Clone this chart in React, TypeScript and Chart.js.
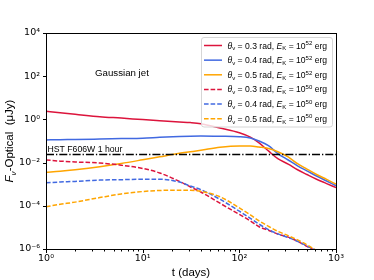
import React, { useEffect, useRef } from "react";
import { Chart, registerables } from "chart.js";
Chart.register(...registerables);

// time since burst (days)
const days = [1, 1.4, 2, 3.6, 6, 10, 15, 24, 31, 40, 63, 100, 130, 160, 200, 250, 320, 400, 500, 630, 800, 1000];

// optical flux density (μJy)
const red52 = [2.37, 2.04, 1.74, 1.33, 1.15, 0.98, 0.87, 0.76, 0.71, 0.63, 0.398, 0.240, 0.150, 0.0813, 0.0347, 0.0151, 0.00851, 0.00468, 0.00282, 0.00170, 0.00107, 0.000692];
const blue52 = [0.112, 0.115, 0.117, 0.123, 0.129, 0.135, 0.148, 0.162, 0.168, 0.170, 0.166, 0.158, 0.138, 0.100, 0.0603, 0.0263, 0.0132, 0.00708, 0.00417, 0.00240, 0.00141, 0.000851];
const orange52 = [0.00355, 0.00398, 0.00468, 0.00646, 0.00912, 0.0135, 0.0186, 0.0269, 0.0316, 0.0372, 0.0513, 0.0589, 0.0589, 0.0525, 0.0447, 0.0316, 0.0182, 0.00891, 0.00501, 0.00282, 0.00166, 0.00100];
const red50 = [0.0132, 0.0117, 0.0107, 0.00955, 0.00759, 0.00537, 0.00331, 0.00135, 7.59e-4, 4.37e-4, 1.32e-4, 3.98e-5, 2.0e-5, 1.07e-5, 7.41e-6, 4.9e-6, 3.55e-6, 2.29e-6, 1.32e-6, 7.9e-7, 5.0e-7, 3.2e-7];
const blue50 = [1.17e-3, 1.26e-3, 1.35e-3, 1.55e-3, 1.62e-3, 1.70e-3, 1.70e-3, 1.26e-3, 8.32e-4, 5.62e-4, 2.0e-4, 5.62e-5, 2.63e-5, 1.41e-5, 7.94e-6, 5.01e-6, 3.39e-6, 2.29e-6, 1.38e-6, 8.3e-7, 5.0e-7, 3.2e-7];
const orange50 = [9.12e-5, 1.17e-4, 1.48e-4, 2.4e-4, 3.55e-4, 4.57e-4, 5.13e-4, 5.25e-4, 5.25e-4, 4.68e-4, 2.63e-4, 7.94e-5, 3.8e-5, 2.0e-5, 1.12e-5, 6.61e-6, 4.17e-6, 2.63e-6, 1.58e-6, 8.5e-7, 5.0e-7, 3.2e-7];

const hstDays = [1, 1000];
const hstLimit = [0.0235, 0.0235];

const xTicks = [1, 10, 100, 1000];
const xTickLabels = ["10⁰", "10¹", "10²", "10³"];
const yTicks = [1e-6, 1e-4, 1e-2, 1, 1e2, 1e4];
const yTickLabels = ["10⁻⁶", "10⁻⁴", "10⁻²", "10⁰", "10²", "10⁴"];

const viewAngles = ["0.3", "0.4", "0.5", "0.3", "0.4", "0.5"];
const energyExps = ["52", "52", "52", "50", "50", "50"];
const seriesColors = ["#DC143C", "#4169E1", "#FFA500", "#DC143C", "#4169E1", "#FFA500"];
const seriesDashed = [false, false, false, true, true, true];

const FONT = "'Liberation Sans', Arial, sans-serif";
const TICK_FONT = "'DejaVu Sans', sans-serif";
const DASH = [4.6, 2];

type Seg = { t: string; it?: boolean; sub?: boolean; sup?: boolean };

function segFont(s: Seg, size: number) {
  const sz = s.sub || s.sup ? size * 0.7 : size;
  return `${s.it ? "italic " : ""}${sz}px ${FONT}`;
}
function richWidth(ctx: CanvasRenderingContext2D, segs: Seg[], size: number) {
  let w = 0;
  for (const s of segs) {
    ctx.font = segFont(s, size);
    w += ctx.measureText(s.t).width;
  }
  return w;
}
function drawRich(ctx: CanvasRenderingContext2D, segs: Seg[], x: number, y: number, size: number, align: "left" | "center") {
  let cx = align === "center" ? x - richWidth(ctx, segs, size) / 2 : x;
  ctx.textAlign = "left";
  ctx.textBaseline = "alphabetic";
  for (const s of segs) {
    ctx.font = segFont(s, size);
    const dy = s.sub ? size * 0.22 : s.sup ? -size * 0.38 : 0;
    ctx.fillText(s.t, cx, y + dy);
    cx += ctx.measureText(s.t).width;
  }
}

const decor = {
  id: "decor",
  afterDraw(chart: any) {
    const ctx: CanvasRenderingContext2D = chart.ctx;
    const { left, right, top, bottom } = chart.chartArea;
    const xs = chart.scales.x;
    const ys = chart.scales.y;
    ctx.save();
    ctx.setLineDash([]);
    ctx.strokeStyle = "#000";
    ctx.fillStyle = "#000";
    ctx.lineWidth = 1;
    const L = Math.round(left) + 0.5, R = Math.round(right) + 0.5, T = Math.round(top) + 0.5, B = Math.round(bottom) + 0.5;
    ctx.strokeRect(L, T, R - L, B - T);
    ctx.beginPath();
    for (const v of xTicks) {
      const p = Math.round(xs.getPixelForValue(v)) + 0.5;
      ctx.moveTo(p, B); ctx.lineTo(p, B + 3.5);
    }
    for (const d of [1, 10, 100]) {
      for (let k = 2; k <= 9; k++) {
        const p = Math.round(xs.getPixelForValue(d * k)) + 0.5;
        ctx.moveTo(p, B); ctx.lineTo(p, B + 2);
      }
    }
    for (const v of yTicks) {
      const p = Math.round(ys.getPixelForValue(v)) + 0.5;
      ctx.moveTo(L, p); ctx.lineTo(L - 3.5, p);
    }
    ctx.stroke();

    // axis titles
    drawRich(ctx, [{ t: "t (days)" }], (left + right) / 2, 276, 11.5, "center");
    ctx.save();
    ctx.translate(13, (top + bottom) / 2);
    ctx.rotate(-Math.PI / 2);
    drawRich(ctx, [{ t: "F", it: true }, { t: "ν", it: true, sub: true }, { t: "-Optical  (μJy)" }], 0, 0, 11.5, "center");
    ctx.restore();

    // annotations
    drawRich(ctx, [{ t: "Gaussian jet" }], left + 49, 76, 9.7, "left");
    drawRich(ctx, [{ t: "HST F606W 1 hour" }], left + 1.5, 151.5, 8.7, "left");

    // legend
    const bx = right - 134.5, by = top + 4.5, bw = 131, bh = 89.5;
    ctx.beginPath();
    const r = 2.5;
    ctx.moveTo(bx + r, by);
    ctx.arcTo(bx + bw, by, bx + bw, by + bh, r);
    ctx.arcTo(bx + bw, by + bh, bx, by + bh, r);
    ctx.arcTo(bx, by + bh, bx, by, r);
    ctx.arcTo(bx, by, bx + bw, by, r);
    ctx.closePath();
    ctx.fillStyle = "rgba(255,255,255,0.8)";
    ctx.fill();
    ctx.strokeStyle = "#d6d6d6";
    ctx.lineWidth = 1;
    ctx.stroke();
    for (let i = 0; i < viewAngles.length; i++) {
      const yc = by + 8 + i * 14.65;
      ctx.beginPath();
      ctx.strokeStyle = seriesColors[i];
      ctx.lineWidth = 1.5;
      ctx.setLineDash(seriesDashed[i] ? DASH : []);
      ctx.moveTo(bx + 2.5, yc);
      ctx.lineTo(bx + 20.5, yc);
      ctx.stroke();
      ctx.setLineDash([]);
      ctx.fillStyle = "#000";
      drawRich(ctx, [
        { t: "θ", it: true }, { t: "v", sub: true }, { t: ` = ${viewAngles[i]} rad, ` },
        { t: "E", it: true }, { t: "K", sub: true }, { t: " = 10" }, { t: energyExps[i], sup: true }, { t: " erg" },
      ], bx + 26, yc + 3, 8.6, "left");
    }
    ctx.restore();
  },
};

export default function App() {
  const ref = useRef<HTMLCanvasElement>(null);
  useEffect(() => {
    if (!ref.current) return;
    const series = [red52, blue52, orange52, red50, blue50, orange50];
    const datasets: any[] = series.map((arr, i) => ({
      data: days.map((d, j) => ({ x: d, y: arr[j] })),
      borderColor: seriesColors[i],
      borderWidth: 1.5,
      borderDash: seriesDashed[i] ? DASH : [],
      pointRadius: 0,
      fill: false,
      cubicInterpolationMode: "monotone",
      order: 20 - i,
    }));
    datasets.push({
      data: hstDays.map((d, j) => ({ x: d, y: hstLimit[j] })),
      borderColor: "#000",
      borderWidth: 1.5,
      borderDash: [8, 2, 1.3, 2],
      pointRadius: 0,
      fill: false,
      order: 0,
    });
    const tickFont = { family: TICK_FONT, size: 9.5 };
    const chart = new Chart(ref.current, {
      type: "line",
      data: { datasets },
      options: {
        animation: false,
        responsive: true,
        maintainAspectRatio: false,
        layout: { padding: { left: 0, top: 33, right: 38, bottom: 0 } },
        plugins: { legend: { display: false }, tooltip: { enabled: false } },
        scales: {
          x: {
            type: "logarithmic",
            min: 1,
            max: 1000,
            grid: { display: false, drawTicks: false },
            border: { display: false },
            ticks: {
              font: tickFont,
              color: "#000",
              padding: 4,
              autoSkip: false,
              maxRotation: 0,
              callback: (v: any) => xTickLabels[xTicks.indexOf(Number(v))] ?? "",
            },
            afterBuildTicks: (s: any) => { s.ticks = xTicks.map((v) => ({ value: v })); },
            afterFit: (s: any) => { s.height = 31; },
          },
          y: {
            type: "logarithmic",
            min: 1e-6,
            max: 1e4,
            grid: { display: false, drawTicks: false },
            border: { display: false },
            ticks: {
              font: tickFont,
              color: "#000",
              padding: 6,
              autoSkip: false,
              callback: (v: any) => {
                const i = yTicks.findIndex((t) => Math.abs(Math.log10(t) - Math.log10(Number(v))) < 1e-6);
                return i >= 0 ? yTickLabels[i] : "";
              },
            },
            afterBuildTicks: (s: any) => { s.ticks = yTicks.map((v) => ({ value: v })); },
            afterFit: (s: any) => { s.width = 46; },
          },
        },
      } as any,
      plugins: [decor],
    });
    return () => chart.destroy();
  }, []);
  return (
    <div style={{ position: "fixed", left: 0, top: 0, width: 374, height: 280, background: "#fff" }}>
      <canvas ref={ref} />
    </div>
  );
}
